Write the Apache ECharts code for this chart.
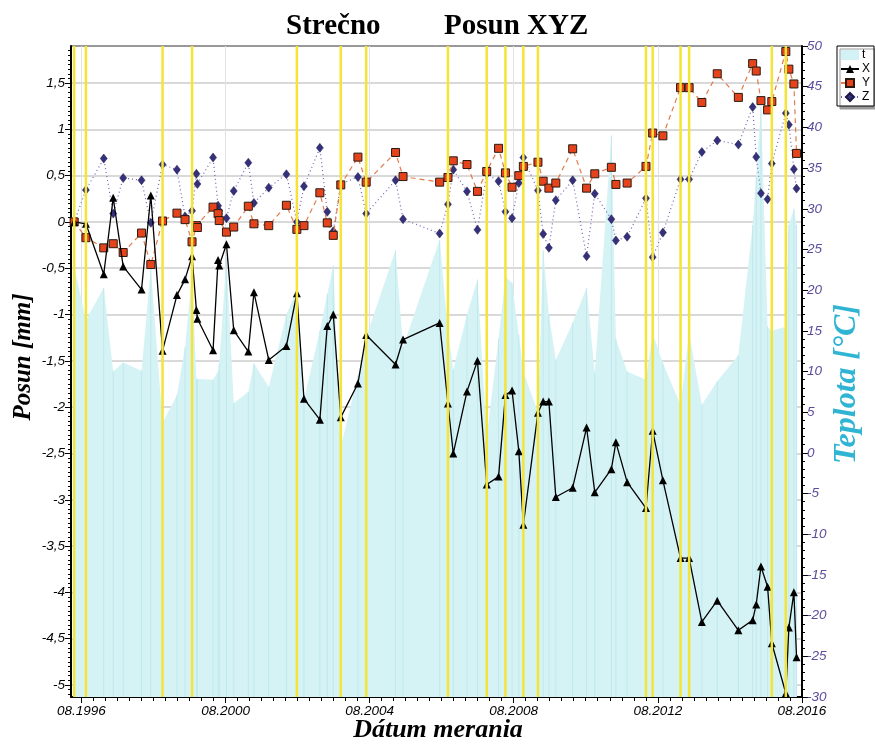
<!DOCTYPE html>
<html>
<head>
<meta charset="utf-8">
<script src="https://cdn.jsdelivr.net/npm/echarts@6/dist/echarts.min.js"></script>
<style>
  html, body { margin: 0; padding: 0; background: #ffffff; }
  #chart { width: 875px; height: 747px; }
</style>
</head>
<body>
<div id="chart"></div>
<script>
// Measurement dates (Strečno, point displacement)
const dates = [
  '1996-05-19','1996-09-15','1997-03-15','1997-06-19','1997-09-28','1998-04-02','1998-07-05','1998-11-01',
  '1999-03-27','1999-06-17','1999-08-27','1999-10-10','1999-10-20','2000-03-27','2000-05-17','2000-05-29',
  '2000-08-10','2000-10-23','2001-03-20','2001-05-16','2001-10-13','2002-04-10','2002-07-25','2002-10-05',
  '2003-03-15','2003-05-29','2003-07-29','2003-10-13','2004-04-04','2004-06-27','2005-04-21','2005-07-06',
  '2006-07-12','2006-10-04','2006-11-27','2007-04-15','2007-07-30','2007-11-01','2008-02-29','2008-05-09',
  '2008-07-15','2008-09-22','2008-11-07','2009-04-04','2009-05-27','2009-07-24','2009-10-02','2010-03-22',
  '2010-08-10','2010-11-01','2011-04-18','2011-06-03','2011-09-25','2012-04-03','2012-06-10','2012-09-22',
  '2013-03-20','2013-06-15','2013-10-22','2014-03-27','2014-10-27','2015-03-21','2015-04-26','2015-06-13',
  '2015-08-19','2015-10-01','2016-02-20','2016-03-22','2016-05-12','2016-06-08'
];

// Displacement components [mm]
const valuesX = [
  0, -0.02, -0.565, 0.26, -0.48, -0.73, 0.285, -1.39,
  -0.79, -0.62, -0.37, -0.95, -1.045, -1.385, -0.41, -0.47,
  -0.24, -1.17, -1.40, -0.76, -1.49, -1.34, -0.77, -1.91,
  -2.135, -1.125, -1.0, -2.11, -1.745, -1.22, -1.54, -1.27,
  -1.09, -1.96, -2.50, -1.83, -1.50, -2.835, -2.75, -1.87,
  -1.82, -2.475, -3.27, -2.06, -1.94, -1.94, -2.97, -2.87,
  -2.22, -2.92, -2.67, -2.38, -2.81, -3.09, -2.255, -2.79,
  -3.63, -3.63, -4.32, -4.09, -4.41, -4.30, -4.13, -3.72,
  -3.94, -4.55, -5.09, -4.38, -4.0, -4.70
];
const valuesY = [
  0, -0.17, -0.28, -0.235, -0.33, -0.12, -0.46, 0.01,
  0.095, 0.025, -0.215, -0.04, -0.06, 0.16, 0.09, 0.015,
  -0.11, -0.055, 0.17, -0.02, -0.04, 0.18, -0.08, -0.04,
  0.315, -0.01, -0.145, 0.40, 0.70, 0.43, 0.75, 0.49,
  0.43, 0.48, 0.66, 0.62, 0.33, 0.545, 0.795, 0.53,
  0.375, 0.50, 0.60, 0.645, 0.44, 0.365, 0.42, 0.79,
  0.365, 0.52, 0.59, 0.405, 0.42, 0.60, 0.96, 0.93,
  1.45, 1.45, 1.29, 1.60, 1.345, 1.71, 1.63, 1.31,
  1.21, 1.30, 1.84, 1.65, 1.49, 0.74
];
const valuesZ = [
  0, 0.345, 0.685, 0.09, 0.475, 0.45, -0.01, 0.62,
  0.565, 0.06, 0.12, 0.52, 0.41, 0.695, 0.175, 0.12,
  0.04, 0.335, 0.64, 0.205, 0.37, 0.515, 0.0, 0.385,
  0.80, 0.11, -0.10, 0.41, 0.485, 0.09, 0.45, 0.03,
  -0.125, 0.19, 0.565, 0.33, -0.085, 0.52, 0.44, 0.11,
  0.04, 0.42, 0.695, 0.34, -0.13, -0.28, 0.235, 0.45,
  -0.37, 0.305, 0.03, -0.20, -0.16, 0.255, -0.38, -0.115,
  0.46, 0.46, 0.755, 0.88, 0.835, 1.24, 0.70, 0.31,
  0.245, 0.63, 1.175, 1.05, 0.57, 0.36
];

// Air temperature at each measurement [°C]
const temperature = [
  22.9, 16.3, 20.3, 10.0, 11.1, 10.1, 22.7, 3.7,
  7.1, 13.0, 22.0, 9.1, 9.0, 9.0, 10.0, 11.0,
  24.0, 6.1, 7.5, 11.0, 8.1, 17.0, 20.0, 6.5,
  15.0, 19.5, 23.0, 0.7, 9.5, 14.2, 24.9, 13.0,
  26.2, 15.0, 10.2, 17.0, 21.3, 2.0, 14.0, 21.6,
  20.9, 14.5, 10.0, 5.0, 24.9, 17.0, 11.4, 16.0,
  20.3, 9.8, 39.0, 14.0, 10.0, 9.0, 14.7, 11.0,
  5.9, 14.7, 5.9, 8.8, 12.0, 28.0, 34.0, 42.5,
  15.5, 15.0, 15.5, 28.0, 30.0, 28.0
];

// Dates of the geodetic survey epochs (yellow markers)
const surveyDates = [
  '1996-05-19','1996-09-15','1998-11-01','1999-08-27','2002-07-25','2003-10-13','2004-06-27','2006-10-04',
  '2007-11-01','2008-05-09','2008-11-07','2009-04-04','2012-04-03','2012-06-10','2013-03-20','2013-06-15',
  '2015-10-01','2016-02-20'
];

// Axis tick labels
const dateTickLabels = ['08.1996','08.2000','08.2004','08.2008','08.2012','08.2016'];
const displacementTicks = [-5,-4.5,-4,-3.5,-3,-2.5,-2,-1.5,-1,-0.5,0,0.5,1,1.5];

function toYear(s) {
  const p = s.split('-').map(Number);
  const y = p[0];
  const start = Date.UTC(y, 0, 1), end = Date.UTC(y + 1, 0, 1);
  return y + (Date.UTC(y, p[1] - 1, p[2]) - start) / (end - start);
}
function labelToYear(lbl) {
  const p = lbl.split('.');
  return toYear(p[1] + '-' + p[0] + '-01');
}

const xMin = labelToYear('08.1996') - 0.291;
const xMax = labelToYear('08.2016') + 0.004;
const majorX = dateTickLabels.map(labelToYear);
const minorX = [];
for (let i = -1; i <= 61; i++) minorX.push(majorX[0] + i / 3);
const minorLeft = [];
for (let i = -102; i <= 38; i++) minorLeft.push(i * 0.05);

const xs = dates.map(toYear);
const pairs = vals => xs.map((x, i) => [x, vals[i]]);

const tickFont = { fontFamily: 'Liberation Sans', fontStyle: 'italic', fontSize: 13.5 };

const chart = echarts.init(document.getElementById('chart'), null, { renderer: 'canvas' });

chart.setOption({
  animation: false,
  backgroundColor: '#ffffff',
  grid: { left: 71, right: 73, top: 46, bottom: 50, show: true, borderColor: '#333', borderWidth: 1, backgroundColor: 'transparent' },
  graphic: [
    { type: 'text', left: 286, top: 12, style: { text: 'Strečno', font: 'bold 29px "Liberation Serif"', fill: '#000' } },
    { type: 'text', left: 444, top: 12, style: { text: 'Posun XYZ', font: 'bold 29px "Liberation Serif"', fill: '#000' } },
    { type: 'text', x: 438, y: 730, style: { text: 'Dátum merania', font: 'italic bold 26px "Liberation Serif"', fill: '#000', align: 'center', verticalAlign: 'middle' } },
    { type: 'text', x: 24, y: 357, rotation: Math.PI / 2, style: { text: 'Posun [mm]', font: 'italic bold 25px "Liberation Serif"', fill: '#000', align: 'center', verticalAlign: 'middle' } },
    { type: 'text', x: 847, y: 384, rotation: Math.PI / 2, style: { text: 'Teplota [°C]', font: 'italic bold 32px "Liberation Serif"', fill: '#2fb4d3', align: 'center', verticalAlign: 'middle' } }
  ],
  legend: {
    orient: 'vertical',
    left: 837, top: 46,
    data: [{ name: 't', icon: 'rect' }, 'X', 'Y', 'Z'],
    itemWidth: 18, itemHeight: 10, itemGap: 2,
    padding: [3, 4, 3, 3],
    backgroundColor: '#ffffff',
    borderColor: '#000', borderWidth: 1,
    shadowColor: '#9a9a9a', shadowBlur: 0, shadowOffsetX: 3, shadowOffsetY: 3,
    textStyle: { fontFamily: 'Liberation Sans', fontSize: 12, color: '#000', padding: [0, 0, 0, -2] }
  },
  xAxis: [
    {
      type: 'value', min: xMin, max: xMax, position: 'bottom',
      axisLine: { show: true, onZero: false, lineStyle: { color: '#000', width: 2 } },
      axisTick: { show: true, customValues: majorX, length: 6, lineStyle: { color: '#000', width: 1 } },
      axisLabel: {
        customValues: majorX, margin: 7, color: '#000', ...tickFont,
        formatter: v => '08.' + Math.floor(v + 0.01)
      },
      splitLine: { show: true, lineStyle: { color: '#e2e2e2', width: 1 } }
    },
    {
      type: 'value', min: xMin, max: xMax, position: 'bottom',
      axisLine: { show: false, onZero: false },
      axisTick: { show: true, customValues: minorX, length: 4, lineStyle: { color: '#000', width: 1 } },
      axisLabel: { show: false },
      splitLine: { show: false }
    }
  ],
  yAxis: [
    {
      type: 'value', min: -5.13, max: 1.9, position: 'left',
      axisLine: { show: true, onZero: false, lineStyle: { color: '#000', width: 2 } },
      axisTick: { show: true, customValues: displacementTicks, length: 6, lineStyle: { color: '#000' } },
      axisLabel: {
        customValues: displacementTicks, margin: 6, color: '#000', ...tickFont,
        formatter: v => String(Math.round(v * 10) / 10).replace('.', ',')
      },
      splitLine: { show: true, lineStyle: { color: '#cdcdcd', width: 1.5 } }
    },
    {
      type: 'value', min: -30, max: 50, interval: 5, position: 'right',
      axisLine: { show: true, onZero: false, lineStyle: { color: '#000', width: 2 } },
      axisTick: { show: true, length: 6, lineStyle: { color: '#000' } },
      minorTick: { show: true, splitNumber: 5, length: 3, lineStyle: { color: '#000' } },
      axisLabel: { margin: 5, color: '#5e4b9c', ...tickFont },
      splitLine: { show: false }
    },
    {
      type: 'value', min: -5.13, max: 1.9, position: 'left',
      axisLine: { show: false, onZero: false },
      axisTick: { show: true, customValues: minorLeft, length: 3, lineStyle: { color: '#000' } },
      axisLabel: { show: false },
      splitLine: { show: false }
    }
  ],
  series: [
    {
      name: 't', type: 'line', yAxisIndex: 1, z: 1,
      data: pairs(temperature),
      symbol: 'none',
      itemStyle: { color: '#d3f2f5' },
      lineStyle: { width: 0 },
      areaStyle: { color: '#d5f3f5', opacity: 1, origin: 'start' }
    },
    {
      name: 'tGrid', type: 'custom', yAxisIndex: 1, z: 2, silent: true,
      data: pairs(temperature),
      renderItem: (params, api) => {
        const top = api.coord([api.value(0), api.value(1)]);
        const base = api.coord([api.value(0), -30]);
        return { type: 'line', shape: { x1: top[0], y1: top[1], x2: base[0], y2: base[1] },
                 style: { stroke: '#bfe8ee', lineWidth: 1 } };
      }
    },
    {
      name: 'Z', type: 'line', yAxisIndex: 0, z: 3,
      data: pairs(valuesZ),
      symbol: 'diamond', symbolSize: [7, 9],
      itemStyle: { color: '#34307c', borderColor: '#1c1a45', borderWidth: 0.5 },
      lineStyle: { color: '#6d62bd', width: 1.2, type: [1, 3] }
    },
    {
      name: 'Y', type: 'line', yAxisIndex: 0, z: 4,
      data: pairs(valuesY),
      symbol: 'rect', symbolSize: 8,
      itemStyle: { color: '#e5431b', borderColor: '#2a1a12', borderWidth: 1 },
      lineStyle: { color: '#e07a4a', width: 1.2, type: [5, 4] }
    },
    {
      name: 'X', type: 'line', yAxisIndex: 0, z: 5,
      data: pairs(valuesX),
      symbol: 'triangle', symbolSize: [8, 8],
      itemStyle: { color: '#000' },
      lineStyle: { color: '#000', width: 1.3 }
    },
    {
      name: 'survey', type: 'custom', yAxisIndex: 0, z: 10, silent: true,
      data: surveyDates.map(d => [toYear(d), 0]),
      renderItem: (params, api) => {
        const x = api.coord([api.value(0), 0])[0];
        const cs = params.coordSys;
        return { type: 'line', shape: { x1: x, y1: cs.y, x2: x, y2: cs.y + cs.height },
                 style: { stroke: '#f4e436', lineWidth: 2.5 } };
      }
    }
  ]
});
</script>
</body>
</html>
